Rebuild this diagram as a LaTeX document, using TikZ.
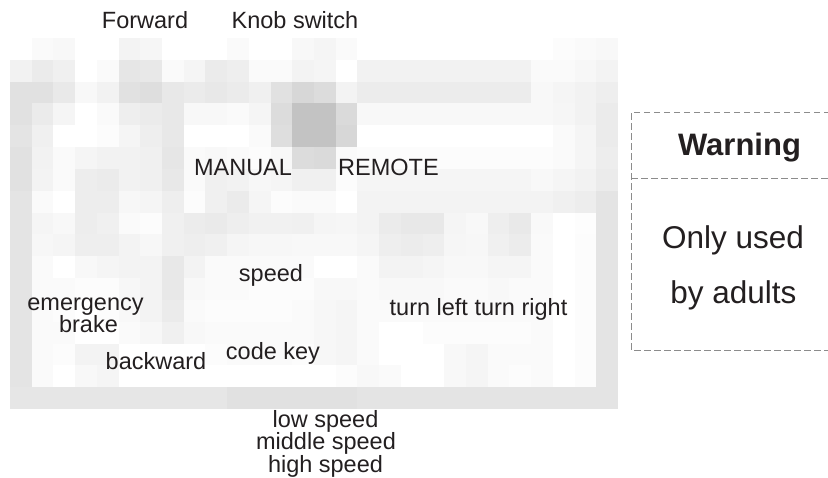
\documentclass[tikz,border=0pt]{standalone}
\usepackage{fontspec}
\setmainfont{Liberation Sans}
\definecolor{ink}{HTML}{231F20}
\definecolor{dashgray}{HTML}{8C8C8C}
\begin{document}
\begin{tikzpicture}[x=1pt,y=-1pt,
  lbl/.style={font=\fontsize{23.5}{22.5}\selectfont, text=ink, inner sep=0pt, anchor=base},
  big/.style={font=\fontsize{31.5}{40}\selectfont, text=ink, inner sep=0pt, anchor=base},
  boxline/.style={draw=dashgray, line width=1pt, dash pattern=on 6.5pt off 3.5pt}]
\useasboundingbox[fill=white] (0,0) rectangle (828,477);

% pixelated photo of the remote-controlled car: 28 x 17 grey cells, row by row
\begin{scope}
\clip (10,38) rectangle (618,409);
\foreach \v [count=\n from 0] in {
 255,250,248,255,255,243,246,255,255,255,250,255,255,248,245,250,255,255,255,255,255,255,255,255,255,252,250,248,
 242,235,240,255,250,230,232,250,245,235,238,250,250,243,245,255,242,242,242,242,242,242,242,242,250,250,247,243,
 225,225,233,248,242,225,222,232,235,232,235,240,225,215,220,243,236,236,236,236,236,236,236,236,248,245,242,238,
 225,235,245,255,250,238,235,232,248,248,250,245,220,195,195,218,248,248,248,248,248,248,248,248,248,246,242,235,
 228,240,255,255,252,245,238,232,255,255,255,250,222,195,195,215,255,255,255,255,255,255,255,255,255,250,245,235,
 225,242,250,245,242,242,240,230,250,248,250,252,248,220,218,250,252,252,252,252,252,252,252,252,252,250,245,237,
 225,243,250,237,235,242,240,232,250,240,242,247,245,240,240,252,245,245,245,245,245,245,245,245,248,245,242,235,
 228,250,255,237,237,247,245,238,252,240,235,245,252,250,250,255,243,243,243,243,243,243,243,243,243,240,237,228,
 228,245,248,237,240,250,252,240,236,234,238,241,241,240,245,246,243,235,232,232,245,248,238,233,249,255,253,228,
 228,247,245,238,238,243,247,240,238,240,245,247,247,248,248,248,245,238,236,238,246,247,240,236,250,255,252,228,
 228,250,255,248,245,243,243,232,243,250,250,250,250,250,255,255,250,243,243,245,248,248,245,245,250,255,252,228,
 228,250,250,252,252,247,243,232,248,250,250,252,252,252,248,248,250,248,248,248,250,250,248,250,250,255,252,228,
 228,250,252,255,252,248,243,235,250,252,252,252,252,250,247,245,250,250,250,250,250,250,250,250,250,255,252,228,
 228,250,250,255,255,250,247,240,248,250,250,250,250,250,247,245,250,255,255,252,252,252,252,252,250,255,252,228,
 228,250,252,243,243,255,255,255,255,252,250,250,250,252,247,245,250,255,255,255,248,245,250,250,250,255,252,228,
 228,250,255,248,245,255,255,255,255,255,255,255,255,255,255,252,248,250,255,255,248,245,250,252,250,255,252,228,
 230,230,230,230,230,230,230,230,230,230,225,225,225,225,225,225,228,228,228,228,228,228,228,228,228,228,228,228
}{
  \pgfmathtruncatemacro\ci{mod(\n,28)}
  \pgfmathtruncatemacro\cj{div(\n,28)}
  \definecolor{cell}{RGB}{\v,\v,\v}
  \fill[cell] ({10+21.714*\ci},{38+21.824*\cj}) rectangle ++(22.1,22.2);
}
\end{scope}

% labels on the car
\node[lbl] (forward) at (145,28) {Forward};
\node[lbl] (knob) at (295,28) {Knob switch};
\node[lbl] (manual) at (243,175) {MANUAL};
\node[lbl] (remote) at (388.5,175) {REMOTE};
\node[lbl] (speed) at (271,281) {speed};
\node[lbl] (emergency) at (85.5,310) {emergency};
\node[lbl] (brake) at (88.5,332) {brake};
\node[lbl] (turn) at (478.5,315) {turn left turn right};
\node[lbl] (codekey) at (273,359) {code key};
\node[lbl] (backward) at (156,369) {backward};
\node[lbl] (low) at (325.5,427) {low speed};
\node[lbl] (middle) at (326,449.5) {middle speed};
\node[lbl] (high) at (325.5,472) {high speed};

% warning panel
\draw[boxline] (830,112) -- (631,112) -- (631,350) -- (830,350);
\draw[boxline] (631,178) -- (830,178);
\node[big, font=\fontsize{31}{40}\selectfont\bfseries] (warning) at (739.5,155) {Warning};
\node[big] (only) at (733,248) {Only used};
\node[big] (adults) at (733.5,303) {by adults};
\end{tikzpicture}
\end{document}
